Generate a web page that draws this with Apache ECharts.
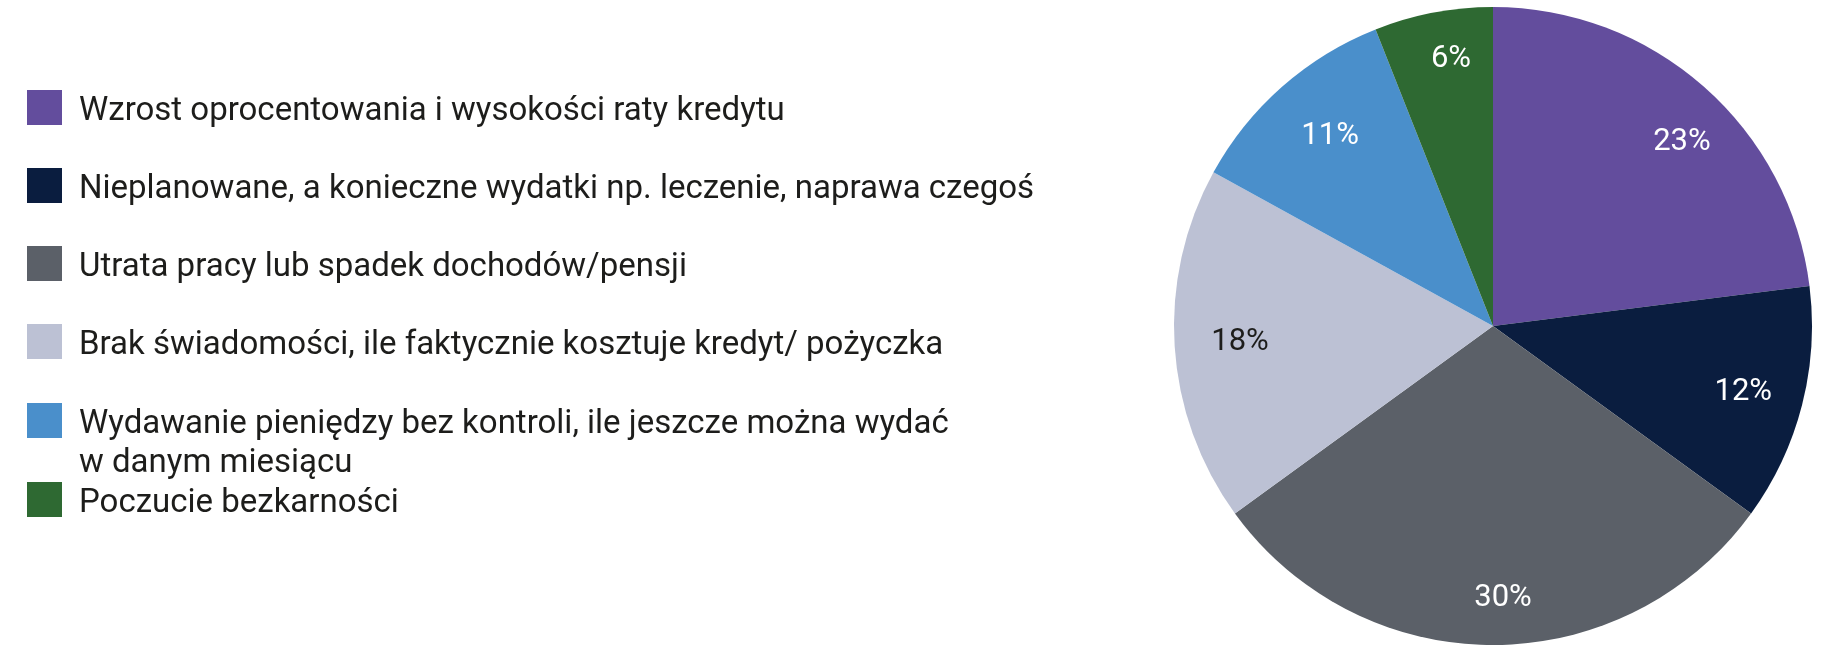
<!DOCTYPE html>
<html lang="pl">

<head>
  <meta charset="UTF-8">
  <title>Przyczyny problemów ze spłatą</title>
  <style>
    * {
      padding: 0px;
      margin: 0px;
    }

    body {
      overflow: hidden;
      background: #ffffff;
    }

    #chart {
      width: 1822px;
      height: 655px;
    }
  </style>
</head>

<body>
  <div id="chart"></div>
  <script src="https://cdn.jsdelivr.net/npm/echarts@6/dist/echarts.min.js"></script>
  <script>
    const categories = [
      'Wzrost oprocentowania i wysokości raty kredytu',
      'Nieplanowane, a konieczne wydatki np. leczenie, naprawa czegoś',
      'Utrata pracy lub spadek dochodów/pensji',
      'Brak świadomości, ile faktycznie kosztuje kredyt/ pożyczka',
      'Wydawanie pieniędzy bez kontroli, ile jeszcze można wydać',
      'Poczucie bezkarności'
    ];
    const shares = [23, 12, 30, 18, 11, 6];
    const sliceColors = ['#634d9d', '#0a1d3f', '#5b6068', '#bcc1d4', '#4a8fcb', '#2e6932'];
    const labelColors = ['#ffffff', '#ffffff', '#ffffff', '#1d1d1b', '#ffffff', '#ffffff'];

    const TEXT = '#1d1d1b';
    const FONT = 'Roboto';
    const CENTER = [1493, 326];
    const R = 319;
    // the % labels in the original are placed by hand, not exactly on the mid-angle
    const labelNudge = [[16, 12], [-3, 1], [10, 11], [8, 0], [10, 6], [7, -10]];

    const pieData = categories.map((name, i) => ({
      name: name,
      value: shares[i],
      itemStyle: { color: sliceColors[i] }
    }));
    // transparent ring, only carries the % labels at ~0.81 of the radius
    const labelData = categories.map((name, i) => ({
      name: name,
      value: shares[i],
      itemStyle: { color: 'rgba(0,0,0,0)' },
      label: { color: labelColors[i], offset: labelNudge[i] }
    }));

    // rich text so the top padding really moves the text down a bit
    const legendText = (lineHeight, padTop) => ({
      padding: [padTop, 0, 0, 12],
      rich: {
        t: { fontFamily: FONT, fontSize: 33, color: TEXT, lineHeight: lineHeight }
      }
    });

    const legendBase = {
      orient: 'vertical',
      left: 27,
      padding: 0,
      icon: 'rect',
      itemWidth: 35,
      itemHeight: 35,
      itemGap: 40,
      selectedMode: false,
      formatter: name => `{t|${name}}`,
      textStyle: legendText(35, 8)
    };

    const chart = echarts.init(document.getElementById('chart'));
    chart.setOption({
      animation: false,
      legend: [
        Object.assign({}, legendBase, { top: 90, data: categories.slice(0, 4) }),
        Object.assign({}, legendBase, {
          top: 403,
          data: [categories[4]],
          formatter: name => `{t|${name}}\n{t|w danym miesiącu}`,
          textStyle: legendText(39, 47)
        }),
        Object.assign({}, legendBase, { top: 482, data: [categories[5]] })
      ],
      series: [
        {
          type: 'pie',
          center: CENTER,
          radius: [0, R],
          startAngle: 90,
          clockwise: true,
          silent: true,
          label: { show: false },
          labelLine: { show: false },
          itemStyle: { borderWidth: 0 },
          data: pieData
        },
        {
          type: 'pie',
          center: CENTER,
          radius: [198, R],
          startAngle: 90,
          clockwise: true,
          silent: true,
          legendHoverLink: false,
          label: {
            show: true,
            position: 'inside',
            formatter: '{c}%',
            fontFamily: FONT,
            fontSize: 31
          },
          labelLine: { show: false },
          itemStyle: { borderWidth: 0 },
          data: labelData
        }
      ]
    });
  </script>
</body>

</html>
